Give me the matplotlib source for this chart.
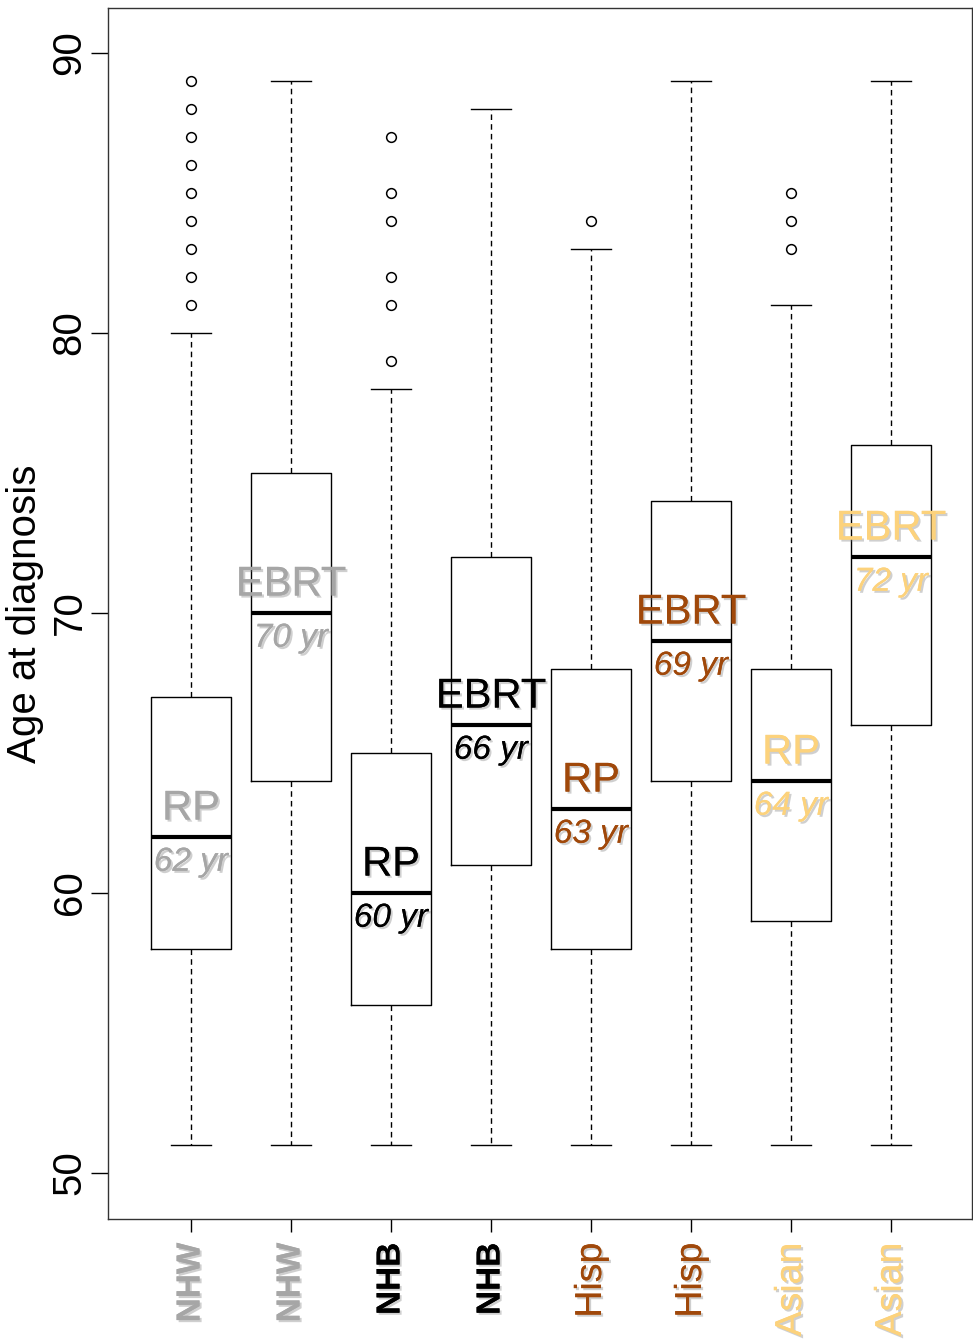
import matplotlib.pyplot as plt
import matplotlib.patheffects as pe

# age at diagnosis by race and treatment (RP = prostatectomy, EBRT = radiation)
groups = ['NHW', 'NHW', 'NHB', 'NHB', 'Hisp', 'Hisp', 'Asian', 'Asian']
treat = ['RP', 'EBRT', 'RP', 'EBRT', 'RP', 'EBRT', 'RP', 'EBRT']
medians = [62, 70, 60, 66, 63, 69, 64, 72]
q1 = [58, 64, 56, 61, 58, 64, 59, 66]
q3 = [67, 75, 65, 72, 68, 74, 68, 76]
whislo = [51, 51, 51, 51, 51, 51, 51, 51]
whishi = [80, 89, 78, 88, 83, 89, 81, 89]
outliers = [
    [81, 82, 83, 84, 85, 86, 87, 88, 89],
    [],
    [79, 81, 82, 84, 85, 87],
    [],
    [84],
    [],
    [83, 84, 85],
    [],
]
colors = ['#a6a6a6', '#a6a6a6', '#000000', '#000000',
          '#a0480a', '#a0480a', '#fcd27c', '#fcd27c']

plt.rcParams['font.family'] = ['Liberation Sans', 'DejaVu Sans']

fig = plt.figure(figsize=(9.73, 13.42), dpi=100)
ax = fig.add_axes([0.111, 0.0917, 0.888, 0.9023])

stats = []
for i in range(len(groups)):
    stats.append(dict(med=medians[i], q1=q1[i], q3=q3[i], whislo=whislo[i],
                      whishi=whishi[i], fliers=outliers[i]))

pos = list(range(1, len(groups) + 1))
ax.bxp(stats, positions=pos, widths=0.8, showfliers=True,
       boxprops=dict(color='black', linewidth=1),
       whiskerprops=dict(color='black', linewidth=1, linestyle=(0, (4, 3))),
       capprops=dict(color='black', linewidth=1),
       medianprops=dict(color='black', linewidth=3),
       capwidths=0.4,
       flierprops=dict(marker='o', markerfacecolor='none', markeredgecolor='black',
                       markersize=7, markeredgewidth=1.1))

shadow = [pe.withSimplePatchShadow(offset=(1.5, -1.5), shadow_rgbFace='#777777', alpha=0.35),
          pe.Normal()]

for i in range(len(groups)):
    ax.text(pos[i], medians[i] + 0.3, treat[i], ha='center', va='bottom',
            fontsize=30, color=colors[i], path_effects=shadow)
    ax.text(pos[i], medians[i] - 0.35, f'{medians[i]} yr', ha='center', va='top',
            fontsize=24, style='italic', color=colors[i], path_effects=shadow)

ax.set_xlim(0.17, 8.81)
ax.set_ylim(48.36, 91.6)
ax.set_yticks([50, 60, 70, 80, 90])
ax.tick_params(axis='y', labelsize=29, length=12, width=1, labelrotation=90, pad=2)
for lab in ax.get_yticklabels():
    lab.set_va('center')
ax.set_ylabel('Age at diagnosis', fontsize=29)
ax.yaxis.set_label_coords(-0.074, 0.5)

ax.set_xticks(pos)
ax.set_xticklabels(groups)
ax.tick_params(axis='x', length=9, width=1, pad=8)
for i, lab in enumerate(ax.get_xticklabels()):
    lab.set_rotation(90)
    lab.set_color(colors[i])
    lab.set_va('top')
    if groups[i] in ('NHW', 'NHB'):
        lab.set_fontweight('bold')
        lab.set_fontsize(24)
    else:
        lab.set_fontsize(27)
    lab.set_path_effects(shadow)

for s in ax.spines.values():
    s.set_linewidth(1)
    s.set_color('#333333')

fig.savefig('out.png', dpi=100)
